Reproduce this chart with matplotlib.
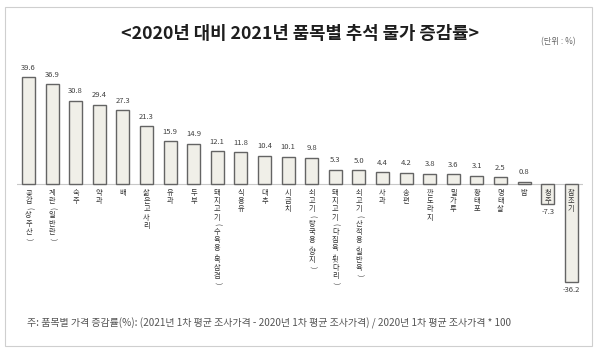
import matplotlib.pyplot as plt
from matplotlib.patches import Rectangle

plt.rcParams['font.family'] = ['Noto Sans CJK KR', 'DejaVu Sans']

# data
items = ["곶감(상주산)", "계란(일반란)", "숙주", "약과", "배", "삶은고사리", "유과", "두부",
         "돼지고기(수육용,목삼겹)", "식용유", "대추", "시금치", "쇠고기(탕국용,양지)",
         "돼지고기(다짐육,뒷다리)", "쇠고기(산적용,일반육)", "사과", "송편", "깐도라지",
         "밀가루", "황태포", "명태살", "밤", "청주", "참조기"]
values = [39.6, 36.9, 30.8, 29.4, 27.3, 21.3, 15.9, 14.9, 12.1, 11.8, 10.4, 10.1, 9.8,
          5.3, 5.0, 4.4, 4.2, 3.8, 3.6, 3.1, 2.5, 0.8, -7.3, -36.2]

title = "<2020년 대비 2021년 품목별 추석 물가 증감률>"
unit = "(단위 : %)"
note = "주: 품목별 가격 증감률(%): (2021년 1차 평균 조사가격 - 2020년 1차 평균 조사가격) / 2020년 1차 평균 조사가격 * 100"


def draw_vertical(ax, xpos, label):
    # vertical writing: hangul upright, punctuation turned sideways
    y = -3.5
    for ch in label:
        if ch in "()":
            step, rot = 4.4, -90
        elif ch == ",":
            step, rot = 2.4, -90
        else:
            step, rot = 5.9, 0
        ax.annotate(ch, (xpos, 0), xytext=(0, y - step / 2), textcoords='offset points',
                    ha='center', va='center', rotation=rot, fontsize=5.2,
                    color='#333333', zorder=3)
        y -= step


fig = plt.figure(figsize=(6, 3.51), dpi=100)
fig.patches.append(Rectangle((5 / 600, 1 - 346 / 351), 587 / 600, 339 / 351,
                             transform=fig.transFigure, fill=False,
                             edgecolor='#cfcfcf', linewidth=0.8))

ax = fig.add_axes([0.0278, 0.1453, 0.944, 0.655])
x = range(len(values))
ax.bar(x, values, width=0.55, color='#f0efe8', edgecolor='#646464', linewidth=1.0, zorder=2)
ax.axhline(0, color='#c8c8c8', linewidth=0.8, zorder=1)

for i, v in enumerate(values):
    if v >= 0:
        ax.annotate(f"{v:.1f}", (i, v), xytext=(0, 4), textcoords='offset points',
                    ha='center', va='bottom', fontsize=5.5, color='#404040')
    else:
        ax.annotate(f"{v:.1f}", (i, v), xytext=(0, -3), textcoords='offset points',
                    ha='center', va='top', fontsize=5.5, color='#404040')
    draw_vertical(ax, i, items[i])

ax.set_xlim(-0.5, len(values) - 0.5)
ax.set_ylim(-43, 42.2)
ax.axis('off')

fig.text(0.5, 1 - 34 / 351, title, ha='center', va='center', fontsize=12.8,
         fontweight='bold', color='#1e1e1e')
fig.text(558 / 600, 1 - 42 / 351, unit, ha='center', va='center', fontsize=6, color='#666666')
fig.text(27 / 600, 1 - 323 / 351, note, ha='left', va='center', fontsize=7.2, color='#555555')

plt.savefig("out.png", dpi=100)
plt.close()
